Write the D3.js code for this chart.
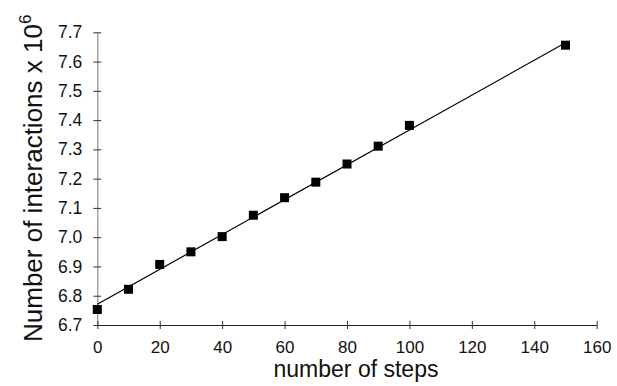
<!DOCTYPE html>
<html>
<head>
<meta charset="utf-8">
<script src="https://d3js.org/d3.v7.min.js"></script>
<style>
  body { margin: 0; background: #fff; }
  svg { font-family: "Liberation Sans", Arial, sans-serif; }
</style>
</head>
<body>
<svg id="chart" width="617" height="386"></svg>
<script>
  // values
  const steps = [0, 10, 20, 30, 40, 50, 60, 70, 80, 90, 100, 150];
  const interactions = [6.753, 6.822, 6.907, 6.950, 7.002, 7.075, 7.135, 7.188, 7.250, 7.311, 7.382, 7.656];
  // straight fit line drawn through the points
  const fitSteps = [0, 150];
  const fitValues = [6.771, 7.664];
  const xTicks = [0, 20, 40, 60, 80, 100, 120, 140, 160];
  const yTicks = [6.7, 6.8, 6.9, 7.0, 7.1, 7.2, 7.3, 7.4, 7.5, 7.6, 7.7];

  const svg = d3.select("#chart");

  const x = d3.scaleLinear().domain([0, 160]).range([97.3, 596.7]);
  const y = d3.scaleLinear().domain([6.7, 7.7]).range([325, 32.3]);

  // y axis
  const yAxis = svg.append("g")
    .attr("transform", "translate(" + x(0) + ",0)")
    .call(d3.axisLeft(y).tickValues(yTicks).tickFormat(d3.format(".1f")).tickSizeOuter(0).tickPadding(9));
  yAxis.select(".domain").attr("stroke", "#777");
  yAxis.selectAll(".tick line").attr("x1", 4).attr("x2", -4).attr("stroke", "#333");
  yAxis.selectAll(".tick text").attr("font-size", 17.5).attr("fill", "#111")
    .attr("font-family", "Liberation Sans, Arial, sans-serif");

  // x axis
  const xAxis = svg.append("g")
    .attr("transform", "translate(0," + y(6.7) + ")")
    .call(d3.axisBottom(x).tickValues(xTicks).tickFormat(d3.format("d")).tickSizeOuter(0).tickPadding(10));
  xAxis.select(".domain").attr("stroke", "#222");
  xAxis.selectAll(".tick line").attr("y1", -4).attr("y2", 4).attr("stroke", "#333");
  xAxis.selectAll(".tick text").attr("font-size", 17).attr("fill", "#111")
    .attr("font-family", "Liberation Sans, Arial, sans-serif");

  // fit line
  const line = d3.line().x(d => x(d[0])).y(d => y(d[1]));
  svg.append("path")
    .attr("d", line(fitSteps.map((s, i) => [s, fitValues[i]])))
    .attr("fill", "none")
    .attr("stroke", "#000")
    .attr("stroke-width", 1.2);

  // square markers
  const m = 9;
  svg.selectAll("rect.pt")
    .data(steps.map((s, i) => [s, interactions[i]]))
    .join("rect")
    .attr("class", "pt")
    .attr("x", d => x(d[0]) - m / 2)
    .attr("y", d => y(d[1]) - m / 2)
    .attr("width", m)
    .attr("height", m)
    .attr("fill", "#000");

  // axis titles
  svg.append("text")
    .attr("x", 356)
    .attr("y", 377)
    .attr("text-anchor", "middle")
    .attr("font-size", 23)
    .attr("fill", "#111")
    .text("number of steps");

  const yt = svg.append("text")
    .attr("transform", "translate(42,342) rotate(-90)")
    .attr("text-anchor", "start")
    .attr("font-size", 26)
    .attr("fill", "#111");
  yt.append("tspan").text("Number of interactions x 10");
  yt.append("tspan").attr("dy", -11).attr("font-size", 17).text("6");
</script>
</body>
</html>
